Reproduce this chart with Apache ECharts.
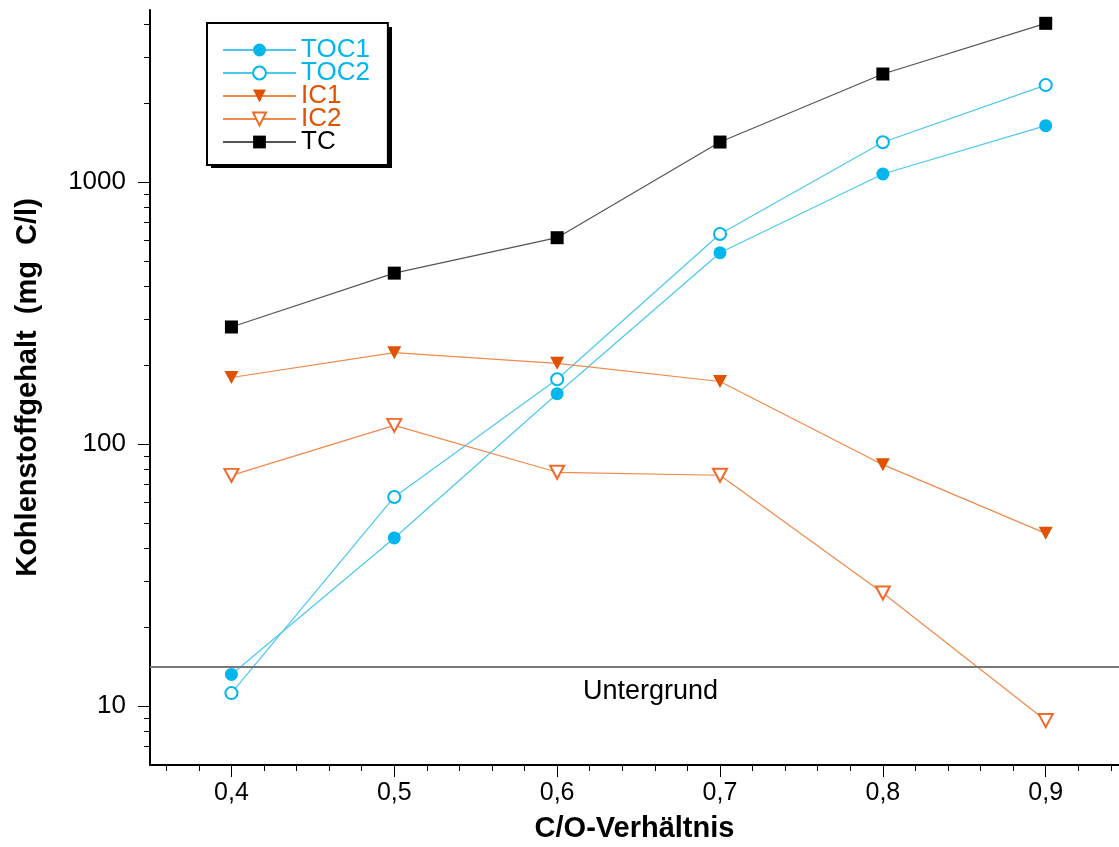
<!DOCTYPE html>
<html>
<head>
<meta charset="utf-8">
<script src="https://cdn.jsdelivr.net/npm/echarts@6/dist/echarts.min.js"></script>
<style>
  html, body { margin: 0; padding: 0; background: #ffffff; }
  #chart { width: 1119px; height: 847px; }
</style>
</head>
<body>
<div id="chart"></div>
<script>
// ---- data ----
const coRatio = [0.4, 0.5, 0.6, 0.7, 0.8, 0.9];
const toc1 = [13.2, 43.8, 155.6, 537, 1073, 1641];
const toc2 = [11.2, 62.8, 176.6, 633, 1418, 2344];
const ic1  = [179.4, 223.1, 203.2, 173.2, 83.4, 45.6];
const ic2  = [75.9, 117.8, 78.0, 76.0, 27.0, 8.8];
const tc   = [279.7, 449, 613, 1421, 2584, 4034];
const untergrund = 14.15;
const untergrundLabel = 'Untergrund';

const seriesNames = ['TOC1', 'TOC2', 'IC1', 'IC2', 'TC'];
const xTickLabels = [0.4, 0.5, 0.6, 0.7, 0.8, 0.9];
const xMinorTicks = [0.36, 0.38, 0.42, 0.44, 0.46, 0.48, 0.52, 0.54, 0.56, 0.58,
                     0.62, 0.64, 0.66, 0.68, 0.72, 0.74, 0.76, 0.78, 0.82, 0.84,
                     0.86, 0.88, 0.92, 0.94];
const yTickLabels = [10, 100, 1000];
const yMinorTicks = [7, 8, 9, 20, 30, 40, 50, 60, 70, 80, 90,
                     200, 300, 400, 500, 600, 700, 800, 900, 2000, 3000, 4000];
const xTitle = 'C/O-Verhältnis';
const yTitle = 'Kohlenstoffgehalt  (mg  C/l)';

// ---- styling ----
const FONT = '"Liberation Sans", Arial, Helvetica, sans-serif';
const X_MIN = 0.35, X_MAX = 0.945;
const Y_MIN = 5.955, Y_MAX = 4535;

const cyanMark = '#00b6ec', cyanLine = '#4cc8f0';
const orangeMark = '#e05200', orangeLine = '#f0894a', orangeOpen = '#ef6a28';

// legend box geometry (style only)
const LEG_LEFT = 207, LEG_TOP = 23, LEG_W = 181, LEG_H = 141;

function pairs(ys) { return coRatio.map((x, i) => [x, ys[i]]); }

const chart = echarts.init(document.getElementById('chart'), null, { renderer: 'canvas' });

const option = {
  backgroundColor: '#ffffff',
  animation: false,
  textStyle: { fontFamily: FONT },
  grid: { left: 150, right: 0, top: 10, bottom: 82, containLabel: false, outerBoundsMode: 'none' },
  graphic: [
    { type: 'rect', z: 1, silent: true,
      shape: { x: LEG_LEFT + 4, y: LEG_TOP + 4, width: LEG_W, height: LEG_H },
      style: { fill: '#000000' } }
  ],
  legend: {
    left: LEG_LEFT, top: LEG_TOP,
    orient: 'vertical',
    z: 10,
    padding: [14, 18, 10, 15],
    itemWidth: 73, itemHeight: 16, itemGap: -3,
    itemTextGap: 8,
    backgroundColor: '#ffffff',
    borderColor: '#000000', borderWidth: 2, borderRadius: 0,
    selectedMode: false,
    textStyle: { fontFamily: FONT, fontSize: 26 },
    data: [
      { name: seriesNames[0], textStyle: { color: cyanMark } },
      { name: seriesNames[1], textStyle: { color: cyanMark } },
      { name: seriesNames[2], textStyle: { color: orangeMark } },
      { name: seriesNames[3], textStyle: { color: orangeMark } },
      { name: seriesNames[4], textStyle: { color: '#000000' } }
    ]
  },
  xAxis: [
    {
      type: 'value', min: X_MIN, max: X_MAX, position: 'bottom',
      name: xTitle, nameLocation: 'middle', nameGap: 49,
      nameTextStyle: { fontFamily: FONT, fontSize: 29, fontWeight: 'bold', color: '#000' },
      axisLine: { show: true, onZero: false, lineStyle: { color: '#000', width: 2 } },
      axisTick: { show: true, inside: false, length: 12, customValues: xTickLabels,
                  lineStyle: { color: '#000', width: 1 } },
      axisLabel: { show: true, customValues: xTickLabels, margin: 16,
                   fontFamily: FONT, fontSize: 25, color: '#000',
                   formatter: v => v.toFixed(1).replace('.', ',') },
      splitLine: { show: false }
    },
    {
      type: 'value', min: X_MIN, max: X_MAX, position: 'bottom',
      axisLine: { show: false, onZero: false },
      axisTick: { show: true, inside: false, length: 6, customValues: xMinorTicks,
                  lineStyle: { color: '#000', width: 1 } },
      axisLabel: { show: false },
      splitLine: { show: false }
    }
  ],
  yAxis: [
    {
      type: 'log', logBase: 10, min: Y_MIN, max: Y_MAX, position: 'left',
      name: yTitle, nameLocation: 'middle', nameGap: 108, nameRotate: 90,
      nameTextStyle: { fontFamily: FONT, fontSize: 29, fontWeight: 'bold', color: '#000' },
      axisLine: { show: true, onZero: false, lineStyle: { color: '#000', width: 2 } },
      axisTick: { show: true, inside: false, length: 12, customValues: yTickLabels,
                  lineStyle: { color: '#000', width: 1 } },
      axisLabel: { show: true, customValues: yTickLabels, margin: 24,
                   fontFamily: FONT, fontSize: 26, color: '#000',
                   formatter: v => String(Math.round(v)) },
      splitLine: { show: false },
      minorTick: { show: false }
    },
    {
      type: 'log', logBase: 10, min: Y_MIN, max: Y_MAX, position: 'left',
      axisLine: { show: false, onZero: false },
      axisTick: { show: true, inside: false, length: 6, customValues: yMinorTicks,
                  lineStyle: { color: '#000', width: 1 } },
      axisLabel: { show: false },
      splitLine: { show: false }
    }
  ],
  series: [
    {
      name: seriesNames[0], type: 'line', data: pairs(toc1),
      symbol: 'circle', symbolSize: 13,
      itemStyle: { color: cyanMark },
      lineStyle: { color: cyanLine, width: 1.2 },
      z: 3,
      markLine: {
        silent: true, symbol: 'none', animation: false,
        lineStyle: { color: '#777777', width: 2, type: 'solid' },
        label: { show: true, position: 'insideMiddleBottom', distance: 12,
                 formatter: untergrundLabel, fontFamily: FONT, fontSize: 27, color: '#000',
                 offset: [16, 0] },
        emphasis: { disabled: true },
        data: [{ yAxis: untergrund }]
      }
    },
    {
      name: seriesNames[1], type: 'line', data: pairs(toc2),
      symbol: 'emptyCircle', symbolSize: 12,
      itemStyle: { color: cyanMark, borderColor: cyanMark, borderWidth: 1.3 },
      lineStyle: { color: cyanLine, width: 1.2 },
      z: 3
    },
    {
      name: seriesNames[2], type: 'line', data: pairs(ic1),
      symbol: 'triangle', symbolRotate: 180, symbolSize: [14, 13],
      itemStyle: { color: orangeMark },
      lineStyle: { color: orangeLine, width: 1.2 },
      z: 3
    },
    {
      name: seriesNames[3], type: 'line', data: pairs(ic2),
      symbol: 'emptyTriangle', symbolRotate: 180, symbolSize: [14, 13],
      itemStyle: { color: orangeOpen, borderColor: orangeOpen, borderWidth: 1.3 },
      lineStyle: { color: orangeLine, width: 1.2 },
      z: 3
    },
    {
      name: seriesNames[4], type: 'line', data: pairs(tc),
      symbol: 'rect', symbolSize: 13,
      itemStyle: { color: '#000000' },
      lineStyle: { color: '#555555', width: 1.2 },
      z: 3
    }
  ]
};

chart.setOption(option);
</script>
</body>
</html>
